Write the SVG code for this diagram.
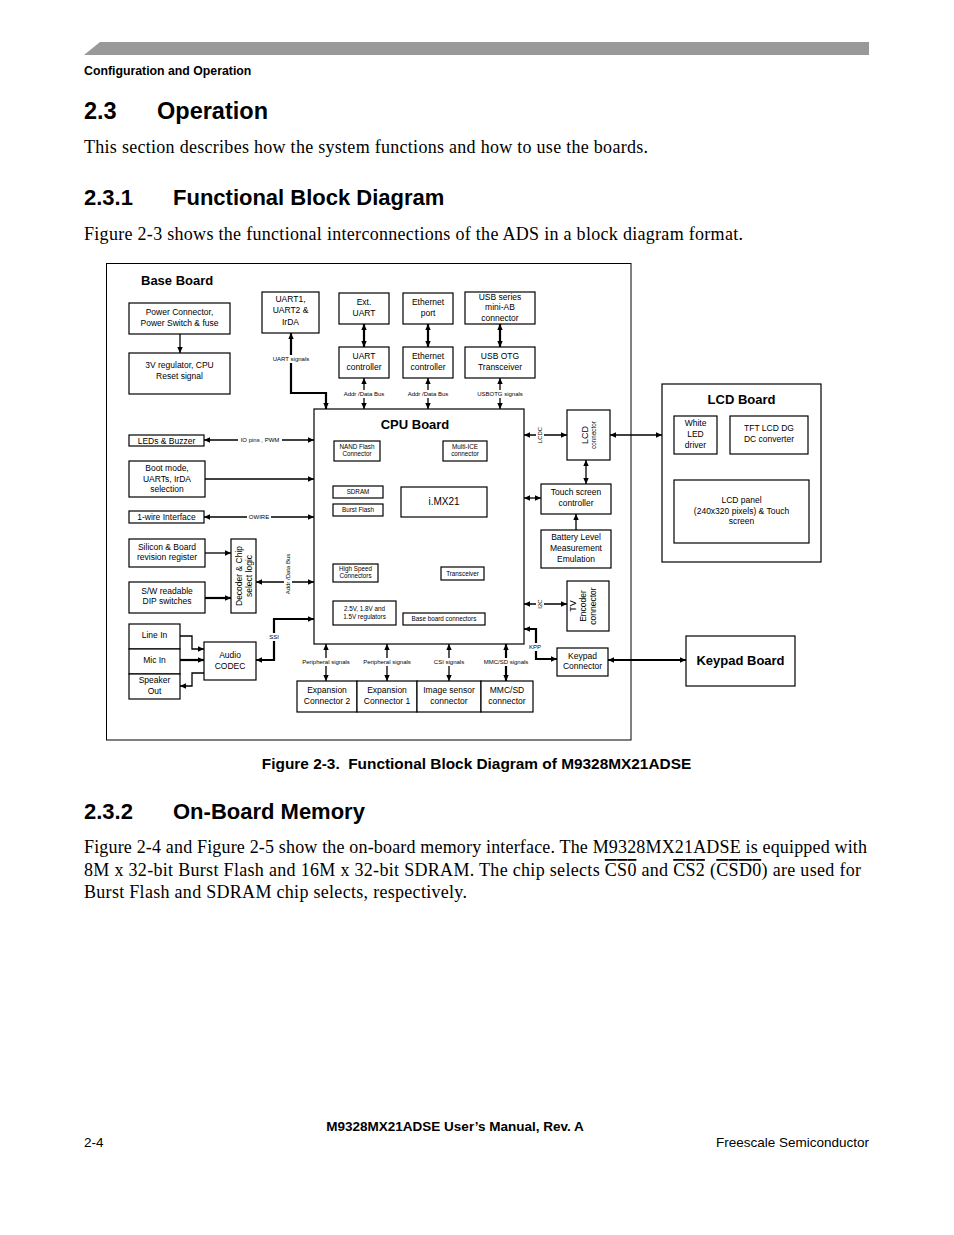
<svg xmlns="http://www.w3.org/2000/svg" width="954" height="1235" viewBox="0 0 954 1235">
<style>
.s{font-family:"Liberation Sans",Arial,sans-serif}
.b{font-family:"Liberation Sans",Arial,sans-serif;font-weight:bold}
.r{font-family:"Liberation Serif","Times New Roman",serif}
.bx{fill:#fff;stroke:#000;stroke-width:1.2}
.t{font-family:"Liberation Sans",Arial,sans-serif;font-size:8.5px;text-anchor:middle}
.ti{font-family:"Liberation Sans",Arial,sans-serif;font-size:6.3px;text-anchor:middle}
.lb{font-family:"Liberation Sans",Arial,sans-serif;font-size:6px;text-anchor:middle}
.ln{fill:none;stroke:#000;stroke-width:1.3}
.th{fill:none;stroke:#000;stroke-width:2.2}
.bg{fill:#fff}
</style>
<defs>
<marker id="a" viewBox="0 0 10 10" refX="10" refY="5" markerWidth="6" markerHeight="6" markerUnits="userSpaceOnUse" orient="auto-start-reverse"><path d="M0,0.5 L10,5 L0,9.5 z" fill="#000"/></marker>
</defs>
<rect width="954" height="1235" fill="#fff"/>
<!-- header -->
<polygon points="84,55 100,42 869,42 869,55" fill="#999"/>
<text x="84" y="75" class="b" font-size="12.3">Configuration and Operation</text>
<text x="84" y="119" class="b" font-size="23.5">2.3</text>
<text x="157" y="119" class="b" font-size="23.5">Operation</text>
<text x="84" y="153" class="r" font-size="18" textLength="564" lengthAdjust="spacing">This section describes how the system functions and how to use the boards.</text>
<text x="84" y="205" class="b" font-size="22">2.3.1</text>
<text x="173" y="205" class="b" font-size="22">Functional Block Diagram</text>
<text x="84" y="240" class="r" font-size="18" textLength="659" lengthAdjust="spacing">Figure 2-3 shows the functional interconnections of the ADS in a block diagram format.</text>

<!-- diagram frame -->
<g id="baseboard">
<rect x="106.5" y="263.5" width="524.5" height="476.5" fill="none" stroke="#000" stroke-width="1"/>
<text x="141" y="285" class="b" font-size="13">Base Board</text>
</g>

<g id="connectors">
<!-- power -->
<line x1="180" y1="334" x2="180" y2="353" class="ln" marker-end="url(#a)"/>
<!-- top row double arrows -->
<line x1="364" y1="324" x2="364" y2="347" class="th" marker-start="url(#a)" marker-end="url(#a)"/>
<line x1="428" y1="324" x2="428" y2="347" class="th" marker-start="url(#a)" marker-end="url(#a)"/>
<line x1="500" y1="324" x2="500" y2="347" class="th" marker-start="url(#a)" marker-end="url(#a)"/>
<line x1="364" y1="378" x2="364" y2="409" class="ln" marker-start="url(#a)" marker-end="url(#a)"/>
<line x1="428" y1="378" x2="428" y2="409" class="ln" marker-start="url(#a)" marker-end="url(#a)"/>
<line x1="500" y1="378" x2="500" y2="409" class="ln" marker-start="url(#a)" marker-end="url(#a)"/>
<!-- UART signals -->
<polyline points="291,333 291,393 326,393 326,409" class="th" marker-start="url(#a)" marker-end="url(#a)"/>
<!-- left side -->
<line x1="204" y1="440" x2="314" y2="440" class="ln" marker-start="url(#a)" marker-end="url(#a)"/>
<line x1="205" y1="479" x2="314" y2="479" class="ln" marker-end="url(#a)"/>
<line x1="204" y1="517" x2="314" y2="517" class="ln" marker-start="url(#a)" marker-end="url(#a)"/>
<line x1="205" y1="553" x2="231" y2="553" class="ln" marker-end="url(#a)"/>
<line x1="205" y1="598" x2="231" y2="598" class="th" marker-end="url(#a)"/>
<line x1="256" y1="582" x2="314" y2="582" class="ln" marker-start="url(#a)" marker-end="url(#a)"/>
<!-- audio -->
<polyline points="180,636 192,636 192,649 204,649" class="ln" marker-end="url(#a)"/>
<line x1="180" y1="660" x2="204" y2="660" class="th" marker-end="url(#a)"/>
<polyline points="204,673 192,673 192,686 180,686" class="ln" marker-end="url(#a)"/>
<polyline points="256,660 274,660 274,619 314,619" class="th" marker-start="url(#a)" marker-end="url(#a)"/>
<!-- CPU inner -->
<polyline points="356,461 356,471 400,471 400,487" class="ln" marker-start="url(#a)" marker-end="url(#a)"/>
<line x1="465" y1="461" x2="465" y2="487" class="ln" marker-start="url(#a)" marker-end="url(#a)"/>
<line x1="383" y1="492" x2="401" y2="492" class="ln" marker-start="url(#a)" marker-end="url(#a)"/>
<line x1="383" y1="510" x2="401" y2="510" class="ln" marker-start="url(#a)" marker-end="url(#a)"/>
<polyline points="411,517 411,532 366,532 366,564" class="ln" marker-start="url(#a)" marker-end="url(#a)"/>
<line x1="427" y1="517" x2="427" y2="613" class="ln" marker-start="url(#a)" marker-end="url(#a)"/>
<line x1="462" y1="517" x2="462" y2="567" class="ln" marker-start="url(#a)" marker-end="url(#a)"/>
<line x1="462" y1="580" x2="462" y2="613" class="ln" marker-start="url(#a)" marker-end="url(#a)"/>
<!-- bottom -->
<line x1="326" y1="644" x2="326" y2="681" class="ln" marker-start="url(#a)" marker-end="url(#a)"/>
<line x1="387" y1="644" x2="387" y2="681" class="ln" marker-start="url(#a)" marker-end="url(#a)"/>
<line x1="449" y1="644" x2="449" y2="681" class="ln" marker-start="url(#a)" marker-end="url(#a)"/>
<line x1="506" y1="644" x2="506" y2="681" class="th" marker-start="url(#a)" marker-end="url(#a)"/>
<!-- right -->
<line x1="524" y1="435" x2="567" y2="435" class="ln" marker-start="url(#a)" marker-end="url(#a)"/>
<line x1="610" y1="435" x2="662" y2="435" class="ln" marker-start="url(#a)" marker-end="url(#a)"/>
<line x1="586" y1="460" x2="586" y2="484" class="ln" marker-start="url(#a)" marker-end="url(#a)"/>
<line x1="524" y1="498" x2="541" y2="498" class="ln" marker-start="url(#a)" marker-end="url(#a)"/>
<line x1="576" y1="530" x2="576" y2="514" class="ln" marker-end="url(#a)"/>
<line x1="524" y1="604" x2="567" y2="604" class="ln" marker-start="url(#a)" marker-end="url(#a)"/>
<polyline points="524,629 536,629 536,659 557,659" class="th" marker-start="url(#a)" marker-end="url(#a)"/>
<line x1="608" y1="660" x2="686" y2="660" class="th" marker-start="url(#a)" marker-end="url(#a)"/>
<!-- LCD board -->
<line x1="696" y1="454" x2="696" y2="480" class="ln" marker-end="url(#a)"/>
<line x1="768" y1="454" x2="768" y2="480" class="ln" marker-end="url(#a)"/>
<!-- labels -->
<rect x="270" y="355" width="42" height="8" class="bg"/><text x="291" y="361" class="lb">UART signals</text>
<rect x="342" y="390" width="44" height="8" class="bg"/><text x="364" y="396" class="lb">Addr /Data Bus</text>
<rect x="406" y="390" width="44" height="8" class="bg"/><text x="428" y="396" class="lb">Addr /Data Bus</text>
<rect x="476" y="390" width="48" height="8" class="bg"/><text x="500" y="396" class="lb">USBOTG signals</text>
<rect x="238" y="436" width="44" height="8" class="bg"/><text x="260" y="442" class="lb">IO pins , PWM</text>
<rect x="247" y="513" width="24" height="8" class="bg"/><text x="259" y="519" class="lb">OWIRE</text>
<rect x="372" y="468" width="38" height="8" class="bg"/><text x="391" y="474" class="lb">NFC signals</text>
<rect x="343" y="539" width="46" height="8" class="bg"/><text x="366" y="545" class="lb">Addr /Data bus</text>
<rect x="415" y="555" width="22" height="8" class="bg"/><text x="426" y="561" class="lb">IO pins</text>
<rect x="438" y="539" width="46" height="8" class="bg"/><text x="461" y="545" class="lb">Addr /Data bus</text>
<rect x="268" y="633" width="12" height="8" class="bg"/><text x="274" y="639" class="lb">SSI</text>
<rect x="298" y="658" width="56" height="8" class="bg"/><text x="326" y="664" class="lb">Peripheral signals</text>
<rect x="359" y="658" width="56" height="8" class="bg"/><text x="387" y="664" class="lb">Peripheral signals</text>
<rect x="430" y="658" width="38" height="8" class="bg"/><text x="449" y="664" class="lb">CSI signals</text>
<rect x="481" y="658" width="50" height="8" class="bg"/><text x="506" y="664" class="lb">MMC/SD signals</text>
<rect x="528" y="643" width="14" height="8" class="bg"/><text x="535" y="649" class="lb">KPP</text>
<g transform="translate(540,435) rotate(-90)"><rect x="-8" y="-4" width="16" height="8" class="bg"/><text x="0" y="2" class="lb">LCDC</text></g>
<g transform="translate(540,604) rotate(-90)"><rect x="-6" y="-4" width="12" height="8" class="bg"/><text x="0" y="2" class="lb">I2C</text></g>
<g transform="translate(288,574) rotate(-90)"><rect x="-22" y="-4" width="44" height="8" class="bg"/><text x="0" y="2" class="lb">Addr /Data Bus</text></g>
</g>

<g id="power"><rect x="129" y="303" width="101" height="31" class="bx"/><text class="t" x="179.5" y="315">Power Connector,</text><text class="t" x="179.5" y="326">Power Switch &amp; fuse</text></g>
<g id="reg3v"><rect x="129" y="353" width="101" height="41" class="bx"/><text class="t" x="179.5" y="368">3V regulator, CPU</text><text class="t" x="179.5" y="379">Reset signal</text></g>
<g id="uart1"><rect x="262" y="292" width="57" height="41" class="bx"/><text class="t" x="290.5" y="302">UART1,</text><text class="t" x="290.5" y="313">UART2 &amp;</text><text class="t" x="290.5" y="325">IrDA</text></g>
<g id="extuart"><rect x="339" y="293" width="50" height="31" class="bx"/><text class="t" x="364" y="305">Ext.</text><text class="t" x="364" y="316">UART</text></g>
<g id="ethport"><rect x="403" y="293" width="50" height="31" class="bx"/><text class="t" x="428" y="305">Ethernet</text><text class="t" x="428" y="316">port</text></g>
<g id="usbconn"><rect x="465" y="292" width="70" height="32" class="bx"/><text class="t" x="500" y="300">USB series</text><text class="t" x="500" y="310">mini-AB</text><text class="t" x="500" y="321">connector</text></g>
<g id="uartctl"><rect x="339" y="347" width="50" height="31" class="bx"/><text class="t" x="364" y="359">UART</text><text class="t" x="364" y="370">controller</text></g>
<g id="ethctl"><rect x="403" y="347" width="50" height="31" class="bx"/><text class="t" x="428" y="359">Ethernet</text><text class="t" x="428" y="370">controller</text></g>
<g id="usbotg"><rect x="465" y="347" width="70" height="31" class="bx"/><text class="t" x="500" y="359">USB OTG</text><text class="t" x="500" y="370">Transceiver</text></g>

<g id="leds"><rect x="129" y="435" width="75" height="11" class="bx"/><text class="t" x="166.5" y="443.5">LEDs &amp; Buzzer</text></g>
<g id="boot"><rect x="129" y="461" width="76" height="36" class="bx"/><text class="t" x="167" y="471">Boot  mode,</text><text class="t" x="167" y="482">UARTs, IrDA</text><text class="t" x="167" y="492">selection</text></g>
<g id="owire"><rect x="129" y="511" width="75" height="12" class="bx"/><text class="t" x="166.5" y="520">1-wire Interface</text></g>
<g id="silicon"><rect x="129" y="539" width="76" height="28" class="bx"/><text class="t" x="167" y="550">Silicon  &amp; Board</text><text class="t" x="167" y="560">revision register</text></g>
<g id="dip"><rect x="129" y="582" width="76" height="31" class="bx"/><text class="t" x="167" y="594">S/W readable</text><text class="t" x="167" y="604">DIP switches</text></g>
<g id="decoder"><rect x="231" y="539" width="25" height="74" class="bx"/><g transform="translate(243.5,576) rotate(-90)"><text class="t" x="0" y="-1.5">Decoder &amp; Chip</text><text class="t" x="0" y="8">select logic</text></g></g>
<g id="linein"><rect x="129" y="624" width="51" height="25" class="bx"/><text class="t" x="154.5" y="638">Line In</text></g>
<g id="micin"><rect x="129" y="649" width="51" height="25" class="bx"/><text class="t" x="154.5" y="663">Mic In</text></g>
<g id="speaker"><rect x="129" y="674" width="51" height="25" class="bx"/><text class="t" x="154.5" y="683">Speaker</text><text class="t" x="154.5" y="694">Out</text></g>
<g id="codec"><rect x="204" y="642" width="52" height="38" class="bx"/><text class="t" x="230" y="658">Audio</text><text class="t" x="230" y="669">CODEC</text></g>

<g id="cpu"><rect x="314" y="409" width="210" height="235" class="bx"/><text class="b" x="415" y="429" font-size="13" text-anchor="middle">CPU Board</text></g>
<g id="nand"><rect x="334" y="441" width="46" height="20" class="bx"/><text class="ti" x="357" y="449">NAND Flash</text><text class="ti" x="357" y="456">Connector</text></g>
<g id="multiice"><rect x="443" y="441" width="44" height="20" class="bx"/><text class="ti" x="465" y="449">Multi-ICE</text><text class="ti" x="465" y="456">connector</text></g>
<g id="sdram"><rect x="333" y="486" width="50" height="12" class="bx"/><text class="ti" x="358" y="494">SDRAM</text></g>
<g id="burst"><rect x="333" y="504" width="50" height="12" class="bx"/><text class="ti" x="358" y="512">Burst Flash</text></g>
<g id="imx21"><rect x="401" y="487" width="86" height="30" class="bx"/><text class="s" x="444" y="505" font-size="10" text-anchor="middle">i.MX21</text></g>
<g id="hsconn"><rect x="333" y="564" width="45" height="18" class="bx"/><text class="ti" x="355.5" y="571">High Speed</text><text class="ti" x="355.5" y="578">Connectors</text></g>
<g id="transceiver"><rect x="441" y="567" width="43" height="13" class="bx"/><text class="ti" x="462.5" y="576">Transceiver</text></g>
<g id="regs"><rect x="333" y="601" width="63" height="24" class="bx"/><text class="ti" x="364.5" y="611">2.5V, 1.8V and</text><text class="ti" x="364.5" y="619">1.5V regulators</text></g>
<g id="baseconn"><rect x="403" y="613" width="82" height="12" class="bx"/><text class="ti" x="444" y="621">Base board connectors</text></g>

<g id="exp2"><rect x="297" y="681" width="60" height="31" class="bx"/><text class="t" x="327" y="693">Expansion</text><text class="t" x="327" y="704">Connector 2</text></g>
<g id="exp1"><rect x="357" y="681" width="60" height="31" class="bx"/><text class="t" x="387" y="693">Expansion</text><text class="t" x="387" y="704">Connector 1</text></g>
<g id="imgsensor"><rect x="417" y="681" width="64" height="31" class="bx"/><text class="t" x="449" y="693">Image sensor</text><text class="t" x="449" y="704">connector</text></g>
<g id="mmcsd"><rect x="481" y="681" width="52" height="31" class="bx"/><text class="t" x="507" y="693">MMC/SD</text><text class="t" x="507" y="704">connector</text></g>

<g id="lcdconn"><rect x="567" y="410" width="43" height="50" class="bx"/><g transform="translate(588.5,435) rotate(-90)"><text class="s" x="0" y="-1" font-size="9" text-anchor="middle">LCD</text><text class="ti" x="0" y="7">connector</text></g></g>
<g id="touch"><rect x="541" y="484" width="70" height="30" class="bx"/><text class="t" x="576" y="495">Touch screen</text><text class="t" x="576" y="506">controller</text></g>
<g id="battery"><rect x="541" y="530" width="70" height="38" class="bx"/><text class="t" x="576" y="540">Battery Level</text><text class="t" x="576" y="551">Measurement</text><text class="t" x="576" y="562">Emulation</text></g>
<g id="tvenc"><rect x="567" y="581" width="42" height="50" class="bx"/><g transform="translate(588,606) rotate(-90)"><text class="s" x="0" y="-12" font-size="9" text-anchor="middle">TV</text><text class="t" x="0" y="-2" font-size="7.5">Encoder</text><text class="t" x="0" y="8" font-size="7.5">connector</text></g></g>
<g id="keypadconn"><rect x="557" y="648" width="51" height="28" class="bx"/><text class="t" x="582.5" y="659">Keypad</text><text class="t" x="582.5" y="669">Connector</text></g>
<g id="keypadboard"><rect x="686" y="636" width="109" height="50" class="bx"/><text class="b" x="740.5" y="665" font-size="13" text-anchor="middle">Keypad Board</text></g>

<g id="lcdboard"><rect x="662" y="384" width="159" height="178" class="bx"/><text class="b" x="741.5" y="404" font-size="13" text-anchor="middle">LCD Board</text></g>
<g id="whiteled"><rect x="674" y="416" width="43" height="38" class="bx"/><text class="t" x="695.5" y="426">White</text><text class="t" x="695.5" y="437">LED</text><text class="t" x="695.5" y="448">driver</text></g>
<g id="tft"><rect x="730" y="416" width="78" height="38" class="bx"/><text class="t" x="769" y="431">TFT LCD DG</text><text class="t" x="769" y="442">DC converter</text></g>
<g id="lcdpanel"><rect x="674" y="480" width="135" height="63" class="bx"/><text class="t" x="741.5" y="503">LCD panel</text><text class="t" x="741.5" y="514">(240x320 pixels) &amp; Touch</text><text class="t" x="741.5" y="524">screen</text></g>

<text x="476.5" y="769" class="b" font-size="15.4" text-anchor="middle" xml:space="preserve">Figure 2-3.  Functional Block Diagram of M9328MX21ADSE</text>

<text x="84" y="819" class="b" font-size="22">2.3.2</text>
<text x="173" y="819" class="b" font-size="22">On-Board Memory</text>
<text x="84" y="853" class="r" font-size="18" textLength="783" lengthAdjust="spacing">Figure 2-4 and Figure 2-5 show the on-board memory interface. The M9328MX21ADSE is equipped with</text>
<text x="84" y="876" class="r" font-size="18" textLength="777" lengthAdjust="spacing">8M x 32-bit Burst Flash and 16M x 32-bit SDRAM. The chip selects <tspan text-decoration="overline">CS0</tspan> and <tspan text-decoration="overline">CS2</tspan> (<tspan text-decoration="overline">CSD0</tspan>) are used for</text>
<text x="84" y="898" class="r" font-size="18" textLength="383" lengthAdjust="spacing">Burst Flash and SDRAM chip selects, respectively.</text>

<text x="455" y="1131" class="b" font-size="13.5" text-anchor="middle">M9328MX21ADSE User’s Manual, Rev. A</text>
<text x="84" y="1147" class="s" font-size="13.5">2-4</text>
<text x="869" y="1147" class="s" font-size="13.5" text-anchor="end">Freescale Semiconductor</text>
</svg>
